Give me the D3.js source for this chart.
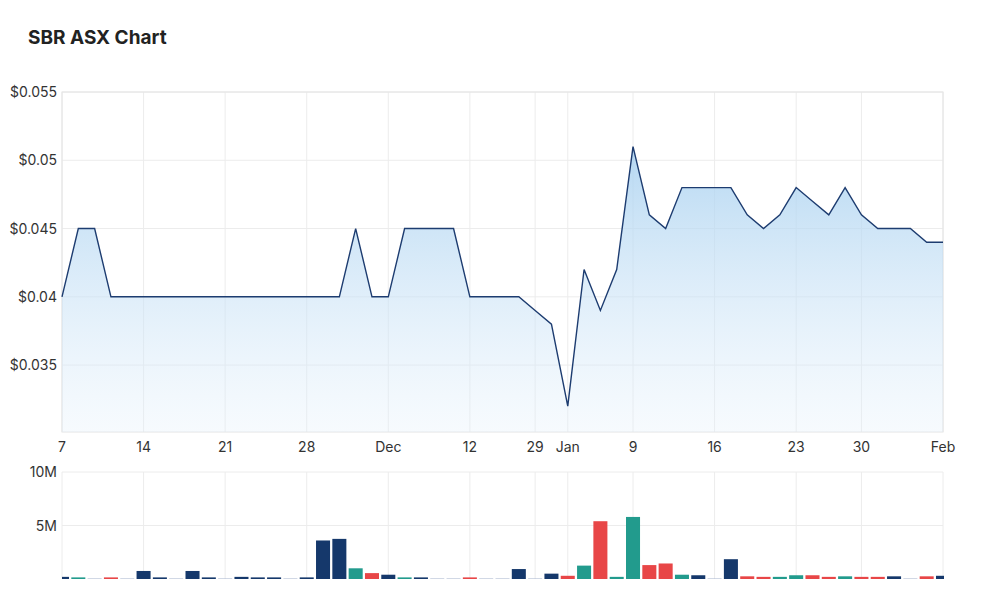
<!DOCTYPE html>
<html><head><meta charset="utf-8">
<script src="https://cdn.jsdelivr.net/npm/d3@7"></script>
<style>body{margin:0;background:#fff;font-family:Inter,"Open Sans",sans-serif;}</style>
</head><body><svg id="c" width="1000" height="603"></svg>
<script>
const prices=[0.040,0.045,0.045,0.040,0.040,0.040,0.040,0.040,0.040,0.040,0.040,0.040,0.040,0.040,0.040,0.040,0.040,0.040,0.045,0.040,0.040,0.045,0.045,0.045,0.045,0.040,0.040,0.040,0.040,0.039,0.038,0.032,0.042,0.039,0.042,0.051,0.046,0.045,0.048,0.048,0.048,0.048,0.046,0.045,0.046,0.048,0.047,0.046,0.048,0.046,0.045,0.045,0.045,0.044,0.044];
const volumes=[0.2,0.15,0.05,0.15,0.05,0.75,0.15,0.05,0.75,0.15,0.05,0.2,0.15,0.15,0.05,0.15,3.6,3.75,1.0,0.55,0.4,0.15,0.15,0.05,0.05,0.15,0.05,0.05,0.93,0.05,0.5,0.3,1.25,5.4,0.2,5.8,1.3,1.45,0.4,0.35,0.05,1.85,0.25,0.2,0.2,0.35,0.35,0.2,0.25,0.2,0.2,0.25,0.05,0.25,0.3];
const volKinds=["n","t","p","r","p","n","n","p","n","n","p","n","n","n","p","n","n","n","t","r","n","t","n","p","p","r","p","p","n","p","n","r","t","r","t","t","r","r","t","n","p","n","r","r","t","t","r","r","t","r","r","n","p","r","n"];
const tickIdx=[0,5,10,15,20,25,29,31,35,40,45,49,54];
const tickLabels=["7","14","21","28","Dec","12","29","Jan","9","16","23","30","Feb"];
const priceTicks=[0.035,0.04,0.045,0.05,0.055];
const priceTickLabels=["$0.035","$0.04","$0.045","$0.05","$0.055"];
const volTicks=[5,10];
const volTickLabels=["5M","10M"];

const svg=d3.select("#c");
const L=62,R=943,PT=92,PB=432,VT=472,VB=579;
const x=d3.scaleLinear().domain([0,prices.length-1]).range([L,R]);
const y=d3.scaleLinear().domain([0.0301,0.055]).range([PB,PT]);
const yv=d3.scaleLinear().domain([0,10]).range([VB,VT]);
const colors={n:"#15386b",t:"#229b8d",r:"#e84647",p:"#a9b6cf"};

svg.append("text").attr("x",28).attr("y",44).text("SBR ASX Chart").attr("font-size",19).attr("font-weight",700).attr("fill","#222");

const defs=svg.append("defs");
const g=defs.append("linearGradient").attr("id","gr").attr("x1",0).attr("y1",0).attr("x2",0).attr("y2",1);
g.append("stop").attr("offset","0%").attr("stop-color","#a9d1f0").attr("stop-opacity",0.85);
g.append("stop").attr("offset","100%").attr("stop-color","#e3f0fb").attr("stop-opacity",0.3);
defs.append("clipPath").attr("id","vc").append("rect").attr("x",L).attr("y",VT).attr("width",R-L+1).attr("height",VB-VT);

// grids
const grid="#ececec";
svg.append("g").selectAll("line").data(priceTicks).join("line").attr("x1",L).attr("x2",R).attr("y1",d=>y(d)).attr("y2",d=>y(d)).attr("stroke",grid);
svg.append("g").selectAll("line").data(tickIdx).join("line").attr("x1",d=>x(d)).attr("x2",d=>x(d)).attr("y1",PT).attr("y2",PB).attr("stroke",grid);
svg.append("g").selectAll("line").data(tickIdx).join("line").attr("x1",d=>x(d)).attr("x2",d=>x(d)).attr("y1",VT).attr("y2",VB).attr("stroke",grid);
svg.append("g").selectAll("line").data(volTicks).join("line").attr("x1",L).attr("x2",R).attr("y1",d=>yv(d)).attr("y2",d=>yv(d)).attr("stroke",grid);
svg.append("rect").attr("x",L).attr("y",PT).attr("width",R-L).attr("height",PB-PT).attr("fill","none").attr("stroke","#e4e4e4");

// area
svg.append("path").datum(prices).attr("fill","url(#gr)")
 .attr("d",d3.area().x((d,i)=>x(i)).y0(PB).y1(d=>y(d)));
svg.append("path").datum(prices).attr("fill","none").attr("stroke","#1d3c70").attr("stroke-width",1.4)
 .attr("d",d3.line().x((d,i)=>x(i)).y(d=>y(d)));

// axes labels
svg.append("g").selectAll("text").data(priceTicks).join("text").attr("x",57).attr("y",d=>y(d)+5)
 .attr("text-anchor","end").attr("font-size",14).attr("fill","#333").text((d,i)=>priceTickLabels[i]);
svg.append("g").selectAll("text").data(tickIdx).join("text").attr("x",d=>x(d)).attr("y",452)
 .attr("text-anchor","middle").attr("font-size",14).attr("fill","#333").text((d,i)=>tickLabels[i]);
svg.append("g").selectAll("text").data(volTicks).join("text").attr("x",57).attr("y",d=>yv(d)+5)
 .attr("text-anchor","end").attr("font-size",14).attr("fill","#333").text((d,i)=>volTickLabels[i]);

// volume bars
const bw=(x(1)-x(0))*0.86;
svg.append("g").attr("clip-path","url(#vc)").selectAll("rect").data(volumes).join("rect")
 .attr("x",(d,i)=>x(i)-bw/2).attr("width",bw).attr("y",d=>yv(d)).attr("height",d=>VB-yv(d))
 .attr("fill",(d,i)=>colors[volKinds[i]]);
</script></body></html>
